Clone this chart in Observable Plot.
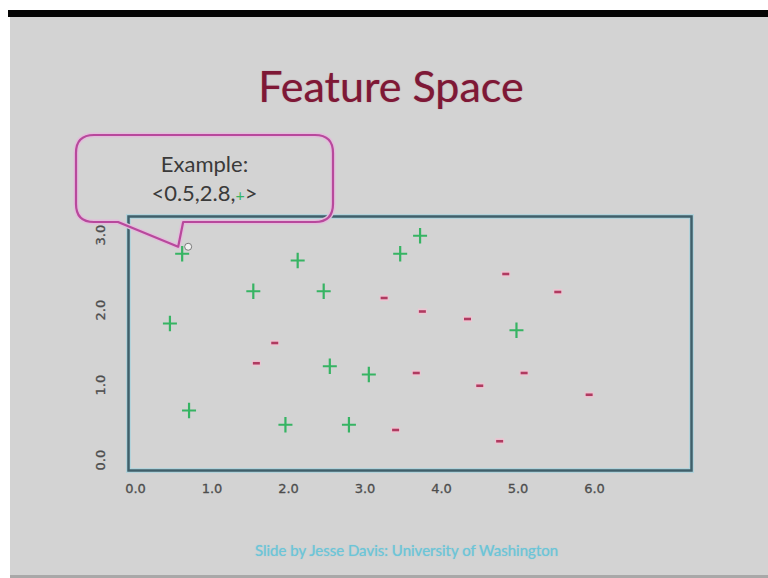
<!DOCTYPE html>
<html>
<head>
<meta charset="utf-8">
<script src="https://cdn.jsdelivr.net/npm/d3@7"></script>
<script src="https://cdn.jsdelivr.net/npm/@observablehq/plot@0.6"></script>
<style>
  html, body { margin: 0; padding: 0; background: #fff; }
  #page { position: relative; width: 768px; height: 578px; overflow: hidden; background: #fff; }
  #slide { position: absolute; left: 10px; top: 17px; width: 758px; height: 558px; background: #d3d3d3; }
  #bar { position: absolute; left: 8px; top: 10px; width: 760px; height: 7px; background: #050505; }
  #foot { position: absolute; left: 10px; top: 575px; width: 758px; height: 3px; background: #a8a8a8; }
  #title { position: absolute; left: 0; top: 64px; width: 782px; text-align: center;
           font: 43px/43px Lato, sans-serif; color: #7e1836; text-shadow: 0 0 1px rgba(140,20,50,0.6); }
  #credit { position: absolute; left: 0; top: 543px; width: 813px; text-align: center;
            font: 15px/15px Lato, sans-serif; color: #6cc5d8; text-shadow: 0 0 1px rgba(90,190,210,0.6); }
  #chart { position: absolute; left: 0; top: 0; }
</style>
</head>
<body>
<div id="page">
  <div id="slide"></div>
  <div id="bar"></div>
  <div id="foot"></div>
  <div id="title">Feature Space</div>
  <div id="chart"></div>
  <div id="credit">Slide by Jesse Davis: University of Washington</div>
</div>
<script>
// ---- data ----
const plusX  = [0.61, 2.12, 1.54, 2.46, 0.45, 2.54, 3.05, 0.70, 1.96, 2.79, 3.72, 3.46, 4.98];
const plusY  = [2.89, 2.80, 2.39, 2.39, 1.96, 1.39, 1.28, 0.80, 0.61, 0.61, 3.13, 2.89, 1.87];
const minusX = [3.25, 1.82, 1.58, 3.40, 4.84, 5.52, 3.75, 4.34, 3.67, 4.50, 5.08, 5.93, 4.76];
const minusY = [2.30, 1.70, 1.43, 0.54, 2.62, 2.38, 2.12, 2.02, 1.30, 1.13, 1.30, 1.01, 0.39];
const xTicks = [0, 1, 2, 3, 4, 5, 6];
const xTickLabels = ["0.0", "1.0", "2.0", "3.0", "4.0", "5.0", "6.0"];
const yTicks = [0, 1, 2, 3];
const yTickLabels = ["0.0", "1.0", "2.0", "3.0"];
const exampleIndex = 0;               // the plus point the callout points at
const exampleText = ["0.5", "2.8", "+"];

// ---- build ----
const plusData = plusX.map((x, i) => ({x, y: plusY[i]}));
const minusData = minusX.map((x, i) => ({x, y: minusY[i]}));

const plusSym = {draw(ctx, size) {
  const r = Math.sqrt(size / Math.PI);
  ctx.moveTo(-r, 0); ctx.lineTo(r, 0);
  ctx.moveTo(0, -r * 1.1); ctx.lineTo(0, r * 1.1);
}};
const minusSym = {draw(ctx, size) {
  const r = Math.sqrt(size / Math.PI);
  ctx.moveTo(-r, 0); ctx.lineTo(r, 0);
}};

const green = "#36b463";
const red = "#b03a60";

const plot = Plot.plot({
  width: 768, height: 578,
  marginLeft: 128, marginRight: 77, marginTop: 216, marginBottom: 108,
  style: {background: "transparent", overflow: "visible"},
  x: {domain: [0, 6], range: [135, 594], axis: null},
  y: {domain: [0, 3], range: [470, 245], axis: null},
  marks: [
    Plot.frame({stroke: "#b3d3db", strokeWidth: 5}),
    Plot.frame({stroke: "#3f5f6a", strokeWidth: 2.5}),
    Plot.text(xTicks, {x: d => d, text: (d, i) => xTickLabels[i], frameAnchor: "bottom", dy: 22,
      fontSize: 13, fontFamily: "DejaVu Sans", fill: "#4d4d4d", stroke: "#4d4d4d", strokeWidth: 0.3}),
    Plot.text(yTicks, {y: d => d, text: (d, i) => yTickLabels[i], frameAnchor: "left", dx: -28, rotate: -90,
      fontSize: 13, fontFamily: "DejaVu Sans", fill: "#4d4d4d", stroke: "#4d4d4d", strokeWidth: 0.3}),
    Plot.dot(minusData, {x: "x", y: "y", symbol: minusSym, r: 4.5, fill: "none", stroke: "#ebc6d2", strokeWidth: 6}),
    Plot.dot(minusData, {x: "x", y: "y", symbol: minusSym, r: 3.5, fill: "none", stroke: red, strokeWidth: 2.6}),
    Plot.dot(plusData, {x: "x", y: "y", symbol: plusSym, r: 7, fill: "none", stroke: green, strokeWidth: 2.2})
  ]
});
document.getElementById("chart").appendChild(plot);

// ---- callout annotation ----
const sx = plot.scale("x"), sy = plot.scale("y");
const px = sx.apply(plusX[exampleIndex]), py = sy.apply(plusY[exampleIndex]);
const tipX = px - 3.5, tipY = py - 6.5;
const L = 76, R = 333, T = 135, B = 222, rr = 18;
const d = `M${L + rr},${T} H${R - rr} Q${R},${T} ${R},${T + rr} V${B - rr} Q${R},${B} ${R - rr},${B}
  H${tipX + 5} L${tipX},${tipY} L${L + 42},${B} H${L + rr} Q${L},${B} ${L},${B - rr} V${T + rr} Q${L},${T} ${L + rr},${T} Z`;
const svg = d3.select(plot);
const g = svg.append("g");
g.append("path").attr("d", d).attr("fill", "none").attr("stroke", "#e2bddb").attr("stroke-width", 5).attr("stroke-linejoin", "round");
g.append("path").attr("d", d).attr("fill", "none").attr("stroke", "#b8489c").attr("stroke-width", 2.2).attr("stroke-linejoin", "round");
g.append("circle").attr("cx", tipX + 10).attr("cy", tipY).attr("r", 3.5)
  .attr("fill", "#f2f2f2").attr("stroke", "#7a7a7a").attr("stroke-width", 1);
const cx = (L + R) / 2;
g.append("text").attr("x", cx).attr("y", 172).attr("text-anchor", "middle")
  .attr("font-family", "Lato, sans-serif").attr("font-size", 22).attr("fill", "#3a3a3a")
  .text("Example:");
const t2 = g.append("text").attr("x", cx).attr("y", 201).attr("text-anchor", "middle")
  .attr("font-family", "Lato, sans-serif").attr("font-size", 22).attr("fill", "#3a3a3a");
t2.append("tspan").text(`<${exampleText[0]},${exampleText[1]},`);
t2.append("tspan").attr("fill", green).attr("font-size", 16).text(exampleText[2]);
t2.append("tspan").text(">");
</script>
</body>
</html>
